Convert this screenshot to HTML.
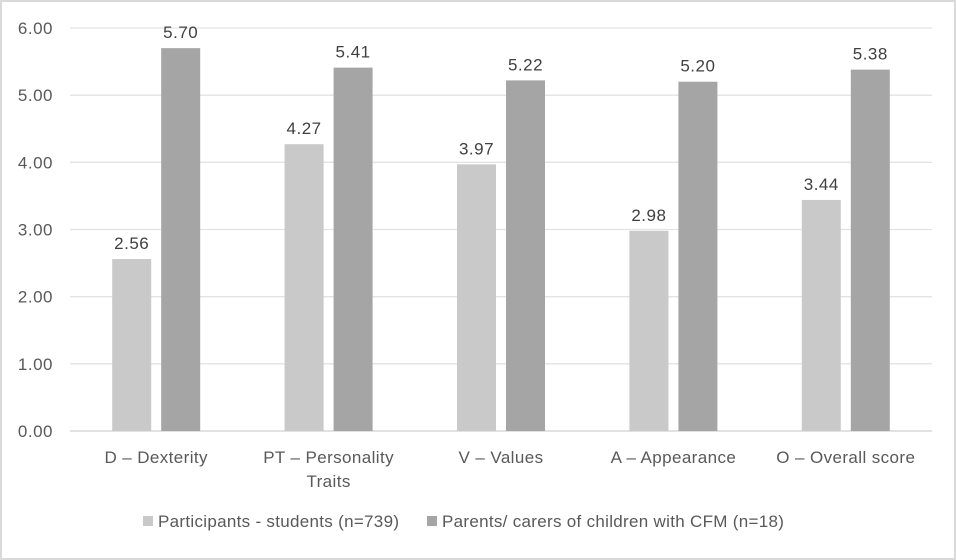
<!DOCTYPE html>
<html><head><meta charset="utf-8"><style>
body{margin:0;background:#fff}
svg{display:block;font-family:"Liberation Sans",sans-serif}
</style></head><body>
<svg id="chart" width="956" height="560" viewBox="0 0 956 560">
<rect x="1" y="1" width="954" height="558" fill="#fff" stroke="#d9d9d9" stroke-width="2"/>
<g id="grid"></g><g id="bars"></g><g id="labels"></g>
<g>
<rect x="143" y="516" width="10" height="10" fill="#c9c9c9"/>
<text x="158" y="527" font-size="17" letter-spacing="0.3" fill="#595959">Participants - students (n=739)</text>
<rect x="427" y="516" width="10" height="10" fill="#a5a5a5"/>
<text x="442" y="527" font-size="17" letter-spacing="0.3" fill="#595959">Parents/ carers of children with CFM (n=18)</text>
</g>
</svg>
<script>
const categories=["D – Dexterity","PT – Personality|Traits","V – Values","A –  Appearance","O – Overall score"];
const students=[2.56,4.27,3.97,2.98,3.44];
const parents=[5.70,5.41,5.22,5.20,5.38];
const ticks=[0,1,2,3,4,5,6];
const NS="http://www.w3.org/2000/svg";
const x0=70,x1=932,yBase=431,yTop=28,yMax=6;
const y=v=>yBase-(v/yMax)*(yBase-yTop);
const bw=(x1-x0)/categories.length;
const cx=i=>x0+bw*(i+0.5);
function mk(tag,attrs,parent){const e=document.createElementNS(NS,tag);for(const k in attrs)e.setAttribute(k,attrs[k]);document.getElementById(parent).appendChild(e);return e;}
ticks.forEach(t=>{
  const l=mk('line',{x1:x0,x2:x1,y1:y(t),y2:y(t),stroke:t===0?'#d0d0d0':'#e3e3e3','stroke-width':1.3},'grid');
  
  
  const tx=mk('text',{x:53,y:y(t)+6,'text-anchor':'end','font-size':17,'letter-spacing':0.5,fill:'#595959'},'grid');
  tx.textContent=t.toFixed(2);
  
  
});
const barW=39,gap=10;
categories.forEach((c,i)=>{
  [[students[i],'#c9c9c9',-1],[parents[i],'#a5a5a5',1]].forEach(([v,col,s])=>{
    const bx=s<0?cx(i)-gap/2-barW:cx(i)+gap/2;
    const r=mk('rect',{x:bx,y:y(v),width:barW,height:yBase-y(v),fill:col},'bars');
    
    
    const t=mk('text',{x:bx+barW/2,y:y(v)-10,'text-anchor':'middle','font-size':17,'letter-spacing':0.5,fill:'#404040'},'labels');
    t.textContent=v.toFixed(2);
    
    
  });
  c.split('|').forEach((line,j)=>{
    const t=mk('text',{x:cx(i),y:463+j*24,'text-anchor':'middle','font-size':17,'letter-spacing':0.4,fill:'#595959','xml:space':'preserve'},'labels');
    t.textContent=line;
    
    
  });
});
</script>
</body></html>
